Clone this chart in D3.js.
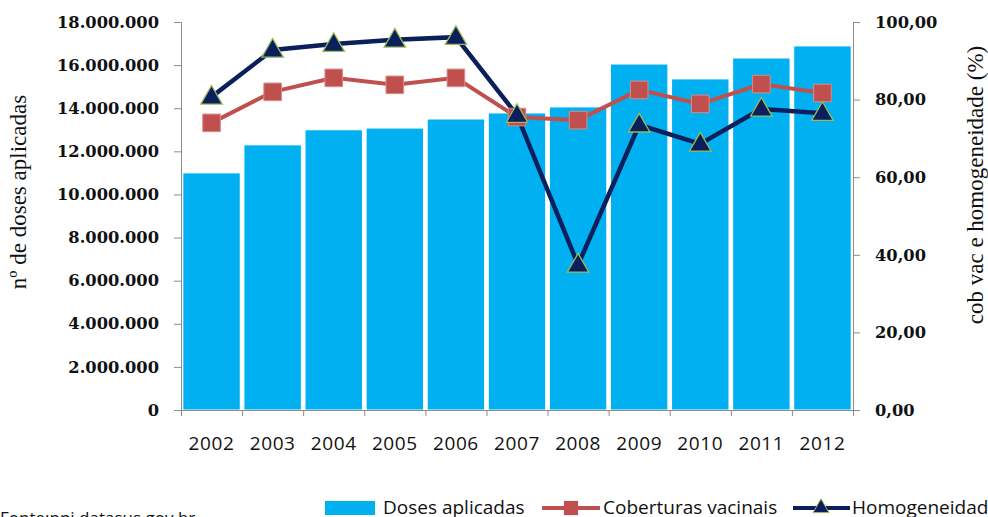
<!DOCTYPE html>
<html>
<head>
<meta charset="utf-8">
<script src="https://cdn.jsdelivr.net/npm/d3@7"></script>
<style>
  body { margin: 0; background: #fff; }
  svg { display: block; }
  .tick text { font-family: "DejaVu Serif", serif; font-weight: bold; font-size: 16.3px; fill: #111; }
  .domain, .tick line { stroke: #8c8c8c; }
</style>
</head>
<body>
<div id="chart"></div>
<script>
// values
const years = ["2002", "2003", "2004", "2005", "2006", "2007", "2008", "2009", "2010", "2011", "2012"];
const doses = [11000000, 12300000, 13000000, 13080000, 13500000, 13780000, 14060000, 16050000, 15360000, 16330000, 16890000];
const cobertura = [74.0, 82.0, 85.6, 83.8, 85.6, 75.5, 74.7, 82.5, 78.9, 84.0, 81.7];
const homogeneidade = [80.7, 92.8, 94.3, 95.4, 96.1, 76.0, 37.4, 73.5, 68.6, 77.6, 76.5];
const leftTicks = [0, 2000000, 4000000, 6000000, 8000000, 10000000, 12000000, 14000000, 16000000, 18000000];
const rightTicks = [0, 20, 40, 60, 80, 100];

const width = 988,
      height = 517,
      margin = ({ top: 22, right: 135, bottom: 107, left: 181 });

const sansFont = '"Liberation Sans Narrow", "Open Sans", sans-serif';

let svg = d3.select("#chart")
    .append("svg")
    .attr("width", width)
    .attr("height", height);

let x = d3.scaleBand()
    .domain(years)
    .range([margin.left, width - margin.right])
    .paddingInner(0.06)
    .paddingOuter(0.03);

// used only for the tick marks between the categories
let xEdges = d3.scaleLinear()
    .domain([0, years.length])
    .range([margin.left, width - margin.right]);

let yLeft = d3.scaleLinear()
    .domain([0, 18000000])
    .range([height - margin.bottom, margin.top]);

let yRight = d3.scaleLinear()
    .domain([0, 100])
    .range([height - margin.bottom, margin.top]);

let fmtDots = d3.formatLocale({ decimal: ",", thousands: ".", grouping: [3], currency: ["R$", ""] });

// bars
svg.append("g")
    .selectAll("rect")
    .data(doses)
    .join("rect")
    .attr("fill", "#00b0f0")
    .attr("stroke", "#ffffff")
    .attr("stroke-width", 1)
    .attr("x", (d, i) => x(years[i]))
    .attr("width", x.bandwidth())
    .attr("y", d => yLeft(d))
    .attr("height", d => yLeft(0) - yLeft(d));

// axes
svg.append("g")
    .attr("transform", `translate(${margin.left},0)`)
    .call(d3.axisLeft(yLeft).tickValues(leftTicks).tickFormat(fmtDots.format(",")).tickSize(7).tickSizeOuter(7).tickPadding(15));

svg.append("g")
    .attr("transform", `translate(${width - margin.right},0)`)
    .call(d3.axisRight(yRight).tickValues(rightTicks).tickFormat(fmtDots.format(".2f")).tickSize(7).tickSizeOuter(7).tickPadding(15));

svg.append("g")
    .attr("transform", `translate(0,${height - margin.bottom})`)
    .call(d3.axisBottom(xEdges).tickValues(d3.range(years.length + 1)).tickFormat("").tickSize(6).tickSizeOuter(0));

svg.append("g")
    .selectAll("text")
    .data(years)
    .join("text")
    .attr("x", d => x(d) + x.bandwidth() / 2)
    .attr("y", height - margin.bottom + 40)
    .attr("text-anchor", "middle")
    .style("font-family", sansFont)
    .style("font-size", "19px")
    .style("letter-spacing", "0.6px")
    .style("fill", "#111")
    .text(d => d);

// lines
let cx = (d, i) => x(years[i]) + x.bandwidth() / 2;

svg.append("path")
    .datum(cobertura)
    .attr("fill", "none")
    .attr("stroke", "#c0504d")
    .attr("stroke-width", 4)
    .attr("d", d3.line().x(cx).y(d => yRight(d)));

svg.append("path")
    .datum(homogeneidade)
    .attr("fill", "none")
    .attr("stroke", "#0a1f5c")
    .attr("stroke-width", 4.5)
    .attr("d", d3.line().x(cx).y(d => yRight(d)));

svg.append("g")
    .selectAll("path")
    .data(cobertura)
    .join("path")
    .attr("transform", (d, i) => `translate(${cx(d, i)},${yRight(d)})`)
    .attr("d", d3.symbol(d3.symbolSquare, 310))
    .attr("fill", "#c0504d")
    .attr("stroke", "#d98b88")
    .attr("stroke-width", 1);

svg.append("g")
    .selectAll("path")
    .data(homogeneidade)
    .join("path")
    .attr("transform", (d, i) => `translate(${cx(d, i)},${yRight(d) + 1})`)
    .attr("d", d3.symbol(d3.symbolTriangle, 200))
    .attr("fill", "#0a1f5c")
    .attr("stroke", "#9bbb59")
    .attr("stroke-width", 1.3);

// axis titles
svg.append("text")
    .attr("transform", `translate(26,${(margin.top + height - margin.bottom) / 2 - 24}) rotate(-90)`)
    .attr("text-anchor", "middle")
    .style("font-family", '"Liberation Serif", serif')
    .style("font-size", "23px")
    .style("fill", "#111")
    .text("nº de doses aplicadas");

svg.append("text")
    .attr("transform", `translate(983,${(margin.top + height - margin.bottom) / 2 - 31}) rotate(-90)`)
    .attr("text-anchor", "middle")
    .style("font-family", '"Liberation Serif", serif')
    .style("font-size", "23px")
    .style("fill", "#111")
    .text("cob vac e homogeneidade (%)");

// legend
let legend = svg.append("g").attr("transform", "translate(0,508)");

legend.append("rect")
    .attr("x", 325).attr("y", -7).attr("width", 50).attr("height", 14)
    .attr("fill", "#00b0f0");
legend.append("text")
    .attr("x", 383).attr("y", 6)
    .style("font-family", sansFont).style("font-size", "19px").style("fill", "#111")
    .text("Doses aplicadas");

legend.append("line")
    .attr("x1", 542).attr("x2", 600).attr("y1", 0).attr("y2", 0)
    .attr("stroke", "#c0504d").attr("stroke-width", 4);
legend.append("path")
    .attr("transform", "translate(571,0)")
    .attr("d", d3.symbol(d3.symbolSquare, 200))
    .attr("fill", "#c0504d");
legend.append("text")
    .attr("x", 603).attr("y", 6)
    .style("font-family", sansFont).style("font-size", "19px").style("fill", "#111")
    .text("Coberturas vacinais");

legend.append("line")
    .attr("x1", 793).attr("x2", 850).attr("y1", 0).attr("y2", 0)
    .attr("stroke", "#0a1f5c").attr("stroke-width", 4);
legend.append("path")
    .attr("transform", "translate(821,0)")
    .attr("d", d3.symbol(d3.symbolTriangle, 110))
    .attr("fill", "#0a1f5c")
    .attr("stroke", "#9bbb59");
legend.append("text")
    .attr("x", 852).attr("y", 6)
    .style("font-family", sansFont).style("font-size", "19px").style("fill", "#111")
    .text("Homogeneidade");

svg.append("text")
    .attr("x", 0).attr("y", 524)
    .style("font-family", sansFont).style("font-size", "17px").style("fill", "#111")
    .text("Fonte:pni.datasus.gov.br");
</script>
</body>
</html>
